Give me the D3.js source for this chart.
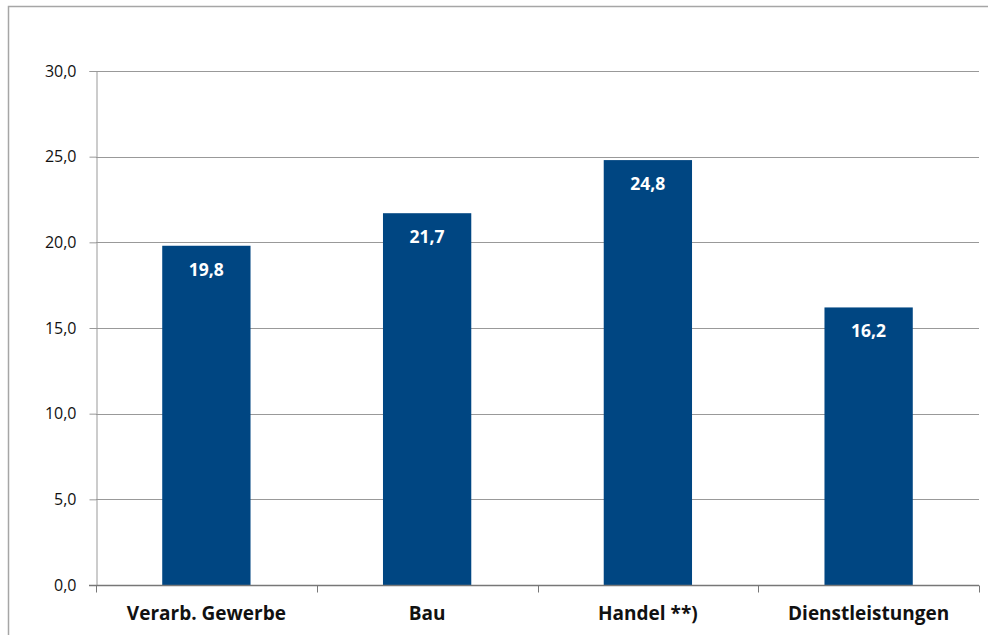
<!DOCTYPE html>
<html>
<head>
<meta charset="utf-8">
<script src="https://cdn.jsdelivr.net/npm/d3@7"></script>
<style>
  body { margin: 0; background: #fff; }
  svg { display: block; font-family: "Open Sans", sans-serif; }
</style>
</head>
<body>
<div id="chart"></div>
<script>
const categories = ["Verarb. Gewerbe", "Bau", "Handel **)", "Dienstleistungen"];
const values = [19.8, 21.7, 24.8, 16.2];
const yTicks = [0, 5, 10, 15, 20, 25, 30];

const width = 988, height = 635;
const margin = { top: 71, right: 9, bottom: 50, left: 96 };

const svg = d3.select("#chart").append("svg")
    .attr("width", width)
    .attr("height", height);

// outer frame (runs off the right and bottom edge like the reference)
svg.append("rect")
    .attr("x", 8.5).attr("y", 6.5)
    .attr("width", width).attr("height", height)
    .attr("fill", "none")
    .attr("stroke", "#a6a6a6")
    .attr("stroke-width", 1.5);

const x = d3.scaleBand()
    .domain(categories)
    .range([margin.left, width - margin.right])
    .paddingInner(0.6)
    .paddingOuter(0.3);

const y = d3.scaleLinear()
    .domain([0, 30])
    .range([height - margin.bottom, margin.top]);

const fmt = d => d3.format(".1f")(d).replace(".", ",");

// gridlines
svg.append("g")
    .selectAll("line")
    .data(yTicks.filter(d => d > 0))
    .join("line")
    .attr("x1", margin.left).attr("x2", width - margin.right)
    .attr("y1", d => Math.round(y(d)) + 0.5).attr("y2", d => Math.round(y(d)) + 0.5)
    .attr("stroke", "#999")
    .attr("stroke-width", 1);

// bars
svg.append("g")
    .selectAll("rect")
    .data(values)
    .join("rect")
    .attr("x", (d, i) => x(categories[i]))
    .attr("y", d => y(d))
    .attr("width", x.bandwidth())
    .attr("height", d => y(0) - y(d))
    .attr("fill", "#004682");

// value labels
svg.append("g")
    .selectAll("text")
    .data(values)
    .join("text")
    .attr("x", (d, i) => x(categories[i]) + x.bandwidth() / 2)
    .attr("y", d => y(d) + 30)
    .attr("text-anchor", "middle")
    .attr("fill", "#fff")
    .style("font-size", "17.5px")
    .style("font-weight", "700")
    .text(d => fmt(d));

// y axis
const yAxis = svg.append("g")
    .attr("transform", `translate(${margin.left + 0.5},0)`)
    .call(d3.axisLeft(y).tickValues(yTicks).tickSize(7).tickPadding(13).tickFormat(fmt));
yAxis.select(".domain").attr("stroke", "#999");
yAxis.selectAll(".tick line").attr("stroke", "#999");
yAxis.selectAll("text")
    .style("font-size", "16px")
    .style("font-family", "Open Sans, sans-serif")
    .attr("fill", "#111");

// x axis with boundary ticks
const xAxis = svg.append("g")
    .attr("transform", `translate(0,${Math.round(y(0)) + 0.5})`);
xAxis.append("line")
    .attr("x1", margin.left - 7).attr("x2", width - margin.right)
    .attr("stroke", "#777").attr("stroke-width", 1.5);
const bounds = d3.range(categories.length + 1).map(i => margin.left + i * (width - margin.right - margin.left) / categories.length);
xAxis.selectAll("line.b")
    .data(bounds)
    .join("line")
    .attr("class", "b")
    .attr("x1", d => Math.round(d) + 0.5).attr("x2", d => Math.round(d) + 0.5)
    .attr("y1", 0).attr("y2", 7)
    .attr("stroke", "#777");
xAxis.selectAll("text")
    .data(categories)
    .join("text")
    .attr("x", d => x(d) + x.bandwidth() / 2)
    .attr("y", 34)
    .attr("text-anchor", "middle")
    .attr("fill", "#111")
    .style("font-size", "19px")
    .style("font-weight", "700")
    .text(d => d);
</script>
</body>
</html>
